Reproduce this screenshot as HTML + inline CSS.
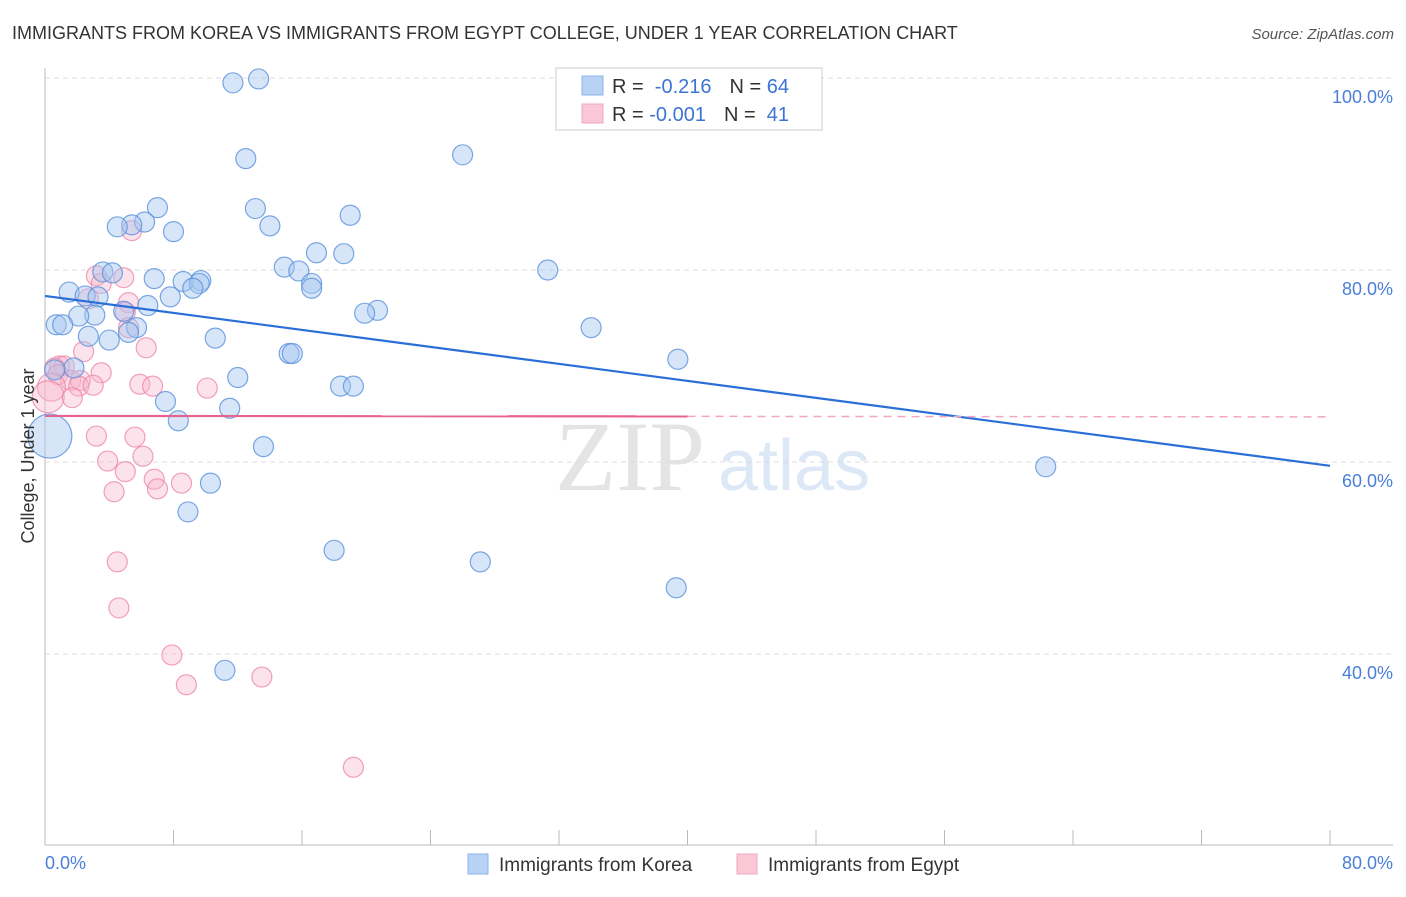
<!DOCTYPE html>
<html><head><meta charset="utf-8"><style>
body{margin:0;background:#fff;font-family:"Liberation Sans",sans-serif}
</style></head><body>
<svg id="chart" width="1406" height="892" xmlns="http://www.w3.org/2000/svg" font-family="Liberation Sans, sans-serif">
<text x="12" y="39" font-size="18" fill="#333">IMMIGRANTS FROM KOREA VS IMMIGRANTS FROM EGYPT COLLEGE, UNDER 1 YEAR CORRELATION CHART</text>
<text x="1394" y="39" font-size="15" fill="#555" font-style="italic" text-anchor="end">Source: ZipAtlas.com</text>
<text x="555" y="490" font-size="100" fill="#e4e4e4" font-family="Liberation Serif, serif">ZIP</text>
<text x="718" y="490" font-size="72" fill="#dde8f6">atlas</text>
<g id="grid"></g>
<g id="axes"></g>
<g id="pts"></g>
<g id="lines"></g>
<text transform="translate(34,456) rotate(-90)" font-size="18" fill="#333" text-anchor="middle">College, Under 1 year</text>
<text x="45" y="869" font-size="18" fill="#4a7fd8">0.0%</text>
<text x="1393" y="869" font-size="18" fill="#4a7fd8" text-anchor="end">80.0%</text>
<g>
<rect x="556" y="68" width="266" height="62" fill="#fff" stroke="#ccc"/>
<rect x="582" y="76" width="21" height="19" fill="#b8d2f5" stroke="#8cb3ea"/>
<rect x="582" y="104" width="21" height="19" fill="#f9c7d6" stroke="#f2a7bf"/>
<text x="612" y="93" font-size="20" fill="#333">R = <tspan fill="#3b74d6">&#160;-0.216</tspan><tspan dx="18">N = </tspan><tspan fill="#3b74d6">64</tspan></text>
<text x="612" y="121" font-size="20" fill="#333">R = <tspan fill="#3b74d6">-0.001</tspan><tspan dx="18">N = </tspan><tspan fill="#3b74d6">&#160;41</tspan></text>
</g>
<g>
<rect x="468" y="854" width="20" height="20" fill="#b8d2f5" stroke="#8cb3ea"/>
<text x="499" y="871" font-size="19" fill="#333">Immigrants from Korea</text>
<rect x="737" y="854" width="20" height="20" fill="#f9c7d6" stroke="#f2a7bf"/>
<text x="768" y="871" font-size="19" fill="#333">Immigrants from Egypt</text>
</g>
</svg>
<script>
const koreaX=[11.7,13.3,12.5,26.0,13.1,14.0,7.0,6.2,5.4,4.5,8.0,19.0,16.9,18.6,14.9,15.8,31.3,3.6,4.2,6.8,8.6,9.7,9.6,16.6,16.6,9.2,1.5,2.5,3.3,7.8,6.4,4.9,3.1,2.1,20.7,19.9,0.7,1.1,34.0,5.7,5.2,2.7,4.0,10.6,15.2,15.4,39.4,1.8,0.6,12.0,18.4,19.2,7.5,11.5,8.3,13.6,62.3,10.3,8.9,18.0,27.1,39.3,11.2,0.3];
const koreaY=[99.5,99.9,91.6,92.0,86.4,84.6,86.5,85.0,84.7,84.5,84.0,85.7,81.8,81.7,80.3,79.9,80.0,79.8,79.7,79.1,78.8,78.9,78.6,78.6,78.1,78.1,77.7,77.3,77.2,77.2,76.3,75.7,75.3,75.2,75.8,75.5,74.3,74.3,74.0,74.0,73.5,73.1,72.7,72.9,71.3,71.3,70.7,69.8,69.6,68.8,67.9,67.9,66.3,65.6,64.3,61.6,59.5,57.8,54.8,50.8,49.6,46.9,38.3,62.7];
const koreaSize=[1,1,1,1,1,1,1,1,1,1,1,1,1,1,1,1,1,1,1,1,1,1,1,1,1,1,1,1,1,1,1,1,1,1,1,1,1,1,1,1,1,1,1,1,1,1,1,1,1,1,1,1,1,1,1,1,1,1,1,1,1,1,1,2.2];
const egyptX=[5.4,3.2,4.9,3.5,2.7,5.2,5.0,5.2,6.3,2.4,0.9,1.2,0.6,0.8,1.6,2.2,2.1,3.5,5.9,6.7,10.1,0.4,0.2,1.7,3.2,5.6,3.9,6.1,5.0,6.8,8.5,4.3,7.0,4.5,4.6,7.9,8.8,13.5,19.2,39.5,3.0];
const egyptY=[84.1,79.4,79.2,78.6,77.0,76.6,75.6,74.0,71.9,71.5,70.0,70.0,69.8,69.1,68.5,68.5,67.9,69.3,68.1,67.9,67.7,67.8,66.8,66.7,62.7,62.6,60.1,60.6,59.0,58.2,57.8,56.9,57.2,49.6,44.8,39.9,36.8,37.6,28.2,99.8,68.0];
const egyptSize=[1,1,1,1,1,1,1,1,1,1,1,1,1,1,1,1,1,1,1,1,1,1.4,1.6,1,1,1,1,1,1,1,1,1,1,1,1,1,1,1,1,1,1];
const yTicks=[40,60,80,100];
const yTickLabels=["40.0%","60.0%","80.0%","100.0%"];
const xTicks=[0,8,16,24,32,40,48,56,64,72,80];
const koreaTrend=[77.3,59.6];
const egyptTrend=[64.8,64.7];
const NS="http://www.w3.org/2000/svg";
const sx=v=>45+v*1285/80;
const sy=v=>462-(v-60)*9.6;
function mk(tag,attrs,parent){const e=document.createElementNS(NS,tag);for(const k in attrs)e.setAttribute(k,attrs[k]);parent.appendChild(e);return e;}
const grid=document.getElementById('grid'),axes=document.getElementById('axes'),pts=document.getElementById('pts'),lines=document.getElementById('lines'),svg=document.getElementById('chart');
yTicks.forEach((t,i)=>{
 const g=mk('line',{x1:45,x2:1393,y1:sy(t),y2:sy(t),stroke:'#ddd','stroke-dasharray':'5,4'},grid);
 
 
 const l=mk('text',{x:1393,y:sy(t)+25,'font-size':18,fill:'#4a7fd8','text-anchor':'end'},svg);
 l.textContent=yTickLabels[i];
 
 
});
const ya=mk('line',{x1:45,x2:45,y1:68,y2:845,stroke:'#bbb'},axes);


const xa=mk('line',{x1:45,x2:1393,y1:845,y2:845,stroke:'#bbb'},axes);


xTicks.forEach(t=>{
 const k=mk('line',{x1:sx(t),x2:sx(t),y1:830,y2:845,stroke:'#bbb'},axes);
 
 
});
function dots(X,Y,S,fill,stroke,name){
 X.forEach((x,i)=>{
  const c=mk('circle',{cx:sx(x),cy:sy(Y[i]),r:10*S[i],fill:fill,stroke:stroke,'stroke-width':1.2},pts);
  
  
 });
}
dots(egyptX,egyptY,egyptSize,'rgba(248,182,202,0.4)','rgba(236,130,165,0.75)','egypt-point');
dots(koreaX,koreaY,koreaSize,'rgba(165,198,240,0.45)','rgba(90,145,220,0.8)','korea-point');
const bl=mk('line',{x1:sx(0),y1:sy(koreaTrend[0]),x2:sx(80),y2:sy(koreaTrend[1]),stroke:'#2a6fd8','stroke-width':2.2},lines);


const pl=mk('line',{x1:sx(0),y1:sy(egyptTrend[0]),x2:sx(40),y2:sy((egyptTrend[0]+egyptTrend[1])/2),stroke:'#e8628f','stroke-width':2.2},lines);


const pd=mk('line',{x1:sx(40),y1:sy((egyptTrend[0]+egyptTrend[1])/2),x2:sx(80),y2:sy(egyptTrend[1]),stroke:'#f0a6bf','stroke-width':1.5,'stroke-dasharray':'8,6'},lines);


</script>
</body></html>
